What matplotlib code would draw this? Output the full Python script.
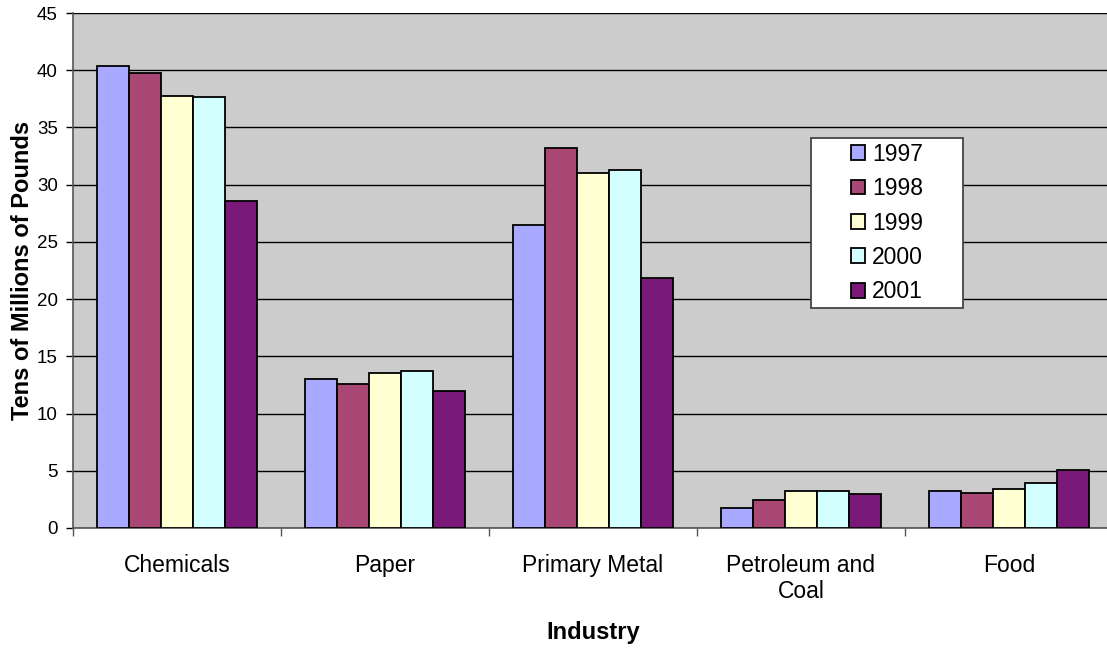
import matplotlib
matplotlib.use("Agg")
import matplotlib.pyplot as plt
from matplotlib.patches import Rectangle
import numpy as np

categories = ["Chemicals", "Paper", "Primary Metal", "Petroleum and\nCoal", "Food"]
years = ["1997", "1998", "1999", "2000", "2001"]
values = {
    "1997": [40.4, 13.05, 26.5, 1.75, 3.27],
    "1998": [39.8, 12.55, 33.2, 2.48, 3.04],
    "1999": [37.75, 13.55, 31.05, 3.27, 3.42],
    "2000": [37.67, 13.75, 31.3, 3.21, 3.97],
    "2001": [28.6, 11.95, 21.85, 3.0, 5.09],
}
colors = ["#A9A9FF", "#A94874", "#FFFFD4", "#D4FFFF", "#7B1978"]

plt.rcParams['font.family'] = ['Liberation Sans', 'DejaVu Sans']

W, H = 1107, 648
fig = plt.figure(figsize=(W / 100, H / 100), dpi=100)
left, right, top, bottom = 73, 1113, 13, 528
ax = fig.add_axes([left / W, 1 - bottom / H, (right - left) / W, (bottom - top) / H])
ax.set_facecolor("#CCCCCC")

n = len(years)
bw = 1 / (n + 1.5)
x = np.arange(len(categories))
for i, (yr, c) in enumerate(zip(years, colors)):
    offs = -0.5 + 0.75 * bw + (i + 0.5) * bw
    ax.bar(x + offs, values[yr], width=bw, color=c, edgecolor="black", linewidth=1.3,
           label=yr, zorder=3)

ax.set_xlim(-0.5, len(categories) - 0.5)
ax.set_ylim(0, 45)
ax.set_yticks(np.arange(0, 46, 5))
ax.yaxis.grid(True, color="black", linewidth=1.0, zorder=1)
ax.set_axisbelow(True)

ax.set_xticks(np.arange(-0.5, len(categories), 1.0))
ax.set_xticklabels([])
ax.set_xticks(x, minor=True)
ax.set_xticklabels(categories, minor=True, fontsize=16.5, linespacing=1.15)
ax.tick_params(axis="x", which="minor", length=0, pad=19)
ax.tick_params(axis="x", which="major", length=6, width=1, color="#555555", direction="out")
ax.tick_params(axis="y", length=5, width=1, direction="out", labelsize=13.5, pad=6)

for s in ["top", "right"]:
    ax.spines[s].set_visible(False)
ax.spines["left"].set_color("#555555")
ax.spines["bottom"].set_color("#555555")
ax.spines["left"].set_linewidth(1.2)
ax.spines["bottom"].set_linewidth(1.2)

ax.set_ylabel("Tens of Millions of Pounds", fontsize=17, fontweight="bold", labelpad=2)
ax.set_xlabel("Industry", fontsize=17, fontweight="bold", labelpad=13)

# legend frame
bx0, by0, bx1, by1 = 811, 138, 963, 308
frame = Rectangle((bx0 / W, 1 - by1 / H), (bx1 - bx0) / W, (by1 - by0) / H,
                  transform=fig.transFigure, facecolor="white",
                  edgecolor="#444444", linewidth=1.3, zorder=4, clip_on=False)
ax.add_patch(frame)
leg = ax.legend(loc="center", bbox_to_anchor=((bx0 + bx1) / 2 / W, 1 - (by0 + by1) / 2 / H),
                bbox_transform=fig.transFigure, fontsize=16.5, frameon=False,
                handlelength=0.62, handleheight=0.62,
                handletextpad=0.3, labelspacing=0.5, borderpad=0.0, borderaxespad=0)
leg.set_zorder(5)

fig.savefig("out.png", dpi=100, facecolor="white")
